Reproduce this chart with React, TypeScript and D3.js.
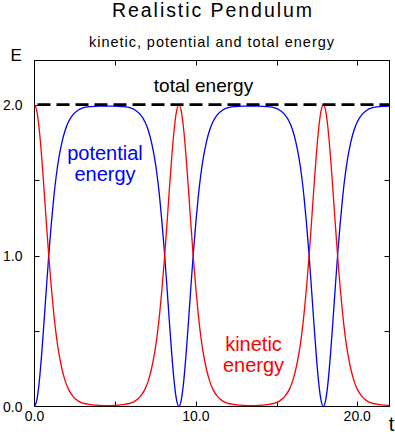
import React from "react";
import * as d3 from "d3";

// time samples (t)
const T = [
  0, 0.15, 0.3, 0.45, 0.6, 0.75, 0.9, 1.05, 1.2, 1.35, 1.5, 1.7, 1.9, 2.1, 2.4, 2.7, 3.0, 3.5, 4.0, 4.475,
  4.95, 5.45, 5.95, 6.25, 6.55, 6.85, 7.05, 7.25, 7.45, 7.6, 7.75, 7.9, 8.05, 8.2, 8.35, 8.5, 8.65, 8.8, 8.95,
  9.1, 9.25, 9.4, 9.55, 9.7, 9.85, 10.0, 10.15, 10.3, 10.45, 10.65, 10.85, 11.05, 11.35, 11.65, 11.95, 12.45, 12.95, 13.425,
  13.9, 14.4, 14.9, 15.2, 15.5, 15.8, 16.0, 16.2, 16.4, 16.55, 16.7, 16.85, 17.0, 17.15, 17.3, 17.45, 17.6, 17.75, 17.9,
  18.05, 18.2, 18.35, 18.5, 18.65, 18.8, 18.95, 19.1, 19.25, 19.4, 19.6, 19.8, 20.0, 20.3, 20.6, 20.9, 21.4, 22.0,
];

// potential energy (blue)
const potential = [
  0, 0.045, 0.17, 0.355, 0.575, 0.805, 1.025, 1.22, 1.39, 1.53, 1.64, 1.75, 1.83, 1.885, 1.935, 1.963, 1.978, 1.987, 1.99, 1.99,
  1.99, 1.987, 1.978, 1.963, 1.935, 1.885, 1.83, 1.75, 1.64, 1.53, 1.39, 1.22, 1.025, 0.805, 0.575, 0.355, 0.17, 0.045, 0,
  0.045, 0.17, 0.355, 0.575, 0.805, 1.025, 1.22, 1.39, 1.53, 1.64, 1.75, 1.83, 1.885, 1.935, 1.963, 1.978, 1.987, 1.99, 1.99,
  1.99, 1.987, 1.978, 1.963, 1.935, 1.885, 1.83, 1.75, 1.64, 1.53, 1.39, 1.22, 1.025, 0.805, 0.575, 0.355, 0.17, 0.045, 0,
  0.045, 0.17, 0.355, 0.575, 0.805, 1.025, 1.22, 1.39, 1.53, 1.64, 1.75, 1.83, 1.885, 1.935, 1.963, 1.978, 1.987, 1.99,
];

// kinetic energy (red)
const kinetic = [
  2.0, 1.955, 1.83, 1.645, 1.425, 1.195, 0.975, 0.78, 0.61, 0.47, 0.36, 0.25, 0.17, 0.115, 0.065, 0.037, 0.022, 0.013, 0.008, 0.006,
  0.008, 0.013, 0.022, 0.037, 0.065, 0.115, 0.17, 0.25, 0.36, 0.47, 0.61, 0.78, 0.975, 1.195, 1.425, 1.645, 1.83, 1.955, 2.0,
  1.955, 1.83, 1.645, 1.425, 1.195, 0.975, 0.78, 0.61, 0.47, 0.36, 0.25, 0.17, 0.115, 0.065, 0.037, 0.022, 0.013, 0.008, 0.006,
  0.008, 0.013, 0.022, 0.037, 0.065, 0.115, 0.17, 0.25, 0.36, 0.47, 0.61, 0.78, 0.975, 1.195, 1.425, 1.645, 1.83, 1.955, 2.0,
  1.955, 1.83, 1.645, 1.425, 1.195, 0.975, 0.78, 0.61, 0.47, 0.36, 0.25, 0.17, 0.115, 0.065, 0.037, 0.022, 0.013, 0.008,
];

const totalEnergy = 2.0;
const tDomain = [0, 22];
const eDomain = [0, 2.292];
const xTicks = [5, 10, 15, 20];
const xLabels = [0, 10, 20];
const yTicks = [0.5, 1, 1.5, 2];
const yLabels = [0, 1, 2];

const FONT = "'Liberation Sans', Arial, Helvetica, sans-serif";

export default function App() {
  const x = d3.scaleLinear().domain(tDomain).range([34.5, 389.5]);
  const y = d3.scaleLinear().domain(eDomain).range([406.5, 60.5]);

  const line = d3
    .line<[number, number]>()
    .x((d) => x(d[0]))
    .y((d) => y(d[1]))
    .curve(d3.curveMonotoneX);

  const potPts: [number, number][] = T.map((t, i) => [t, potential[i]]);
  const kinPts: [number, number][] = T.map((t, i) => [t, kinetic[i]]);

  const [x0, x1] = x.range();
  const [yb, yt] = y.range();

  return (
    <svg
      width={395}
      height={434}
      style={{ position: "absolute", left: 0, top: 0, background: "#fff" }}
      fontFamily={FONT}
    >
      <rect x={0} y={0} width={395} height={434} fill="#fff" />
      <text x={212} y={17} fontSize={19.5} textAnchor="middle" textLength={200} lengthAdjust="spacing">
        Realistic Pendulum
      </text>
      <text x={211.5} y={46.5} fontSize={14.5} textAnchor="middle" textLength={245} lengthAdjust="spacing">
        kinetic, potential and total energy
      </text>
      <text x={10.5} y={61} fontSize={17}>E</text>
      <text x={391.5} y={431} fontSize={20} textAnchor="middle">t</text>

      {/* frame */}
      <rect x={x0} y={yt} width={x1 - x0} height={yb - yt} fill="none" stroke="#000" strokeWidth={1} />

      {/* x ticks */}
      {xTicks.map((v) => (
        <g key={"xt" + v}>
          <line x1={Math.round(x(v)) + 0.5} x2={Math.round(x(v)) + 0.5} y1={yb} y2={yb - 5} stroke="#000" />
          <line x1={Math.round(x(v)) + 0.5} x2={Math.round(x(v)) + 0.5} y1={yt} y2={yt + 5} stroke="#000" />
        </g>
      ))}
      {xLabels.map((v) => (
        <text key={"xl" + v} x={x(v)} y={421} fontSize={14} textAnchor="middle">
          {v.toFixed(1)}
        </text>
      ))}

      {/* y ticks */}
      {yTicks.map((v) => (
        <g key={"yt" + v}>
          <line x1={x0} x2={x0 + 5} y1={Math.round(y(v)) + 0.5} y2={Math.round(y(v)) + 0.5} stroke="#000" />
          <line x1={x1} x2={x1 - 5} y1={Math.round(y(v)) + 0.5} y2={Math.round(y(v)) + 0.5} stroke="#000" />
        </g>
      ))}
      {yLabels.map((v) => (
        <text key={"yl" + v} x={22.5} y={y(v) + 5.5} fontSize={14} textAnchor="end">
          {v.toFixed(1)}
        </text>
      ))}

      {/* curves */}
      <path d={line(potPts) || ""} fill="none" stroke="#0000ff" strokeWidth={1.3} />
      <path d={line(kinPts) || ""} fill="none" stroke="#ff0000" strokeWidth={1.3} />

      {/* total energy */}
      <line
        x1={x(tDomain[0])}
        x2={x(tDomain[1])}
        y1={y(totalEnergy)}
        y2={y(totalEnergy)}
        stroke="#000"
        strokeWidth={2.6}
        strokeDasharray="13,6"
        strokeDashoffset={-3}
      />

      <text x={203.5} y={92} fontSize={19} textAnchor="middle">total energy</text>
      <text x={105} y={160} fontSize={20} textAnchor="middle" fill="#0000ff">potential</text>
      <text x={105} y={181} fontSize={20} textAnchor="middle" fill="#0000ff">energy</text>
      <text x={253.5} y={351} fontSize={20} textAnchor="middle" fill="#ff0000">kinetic</text>
      <text x={253.5} y={372} fontSize={20} textAnchor="middle" fill="#ff0000">energy</text>
    </svg>
  );
}
